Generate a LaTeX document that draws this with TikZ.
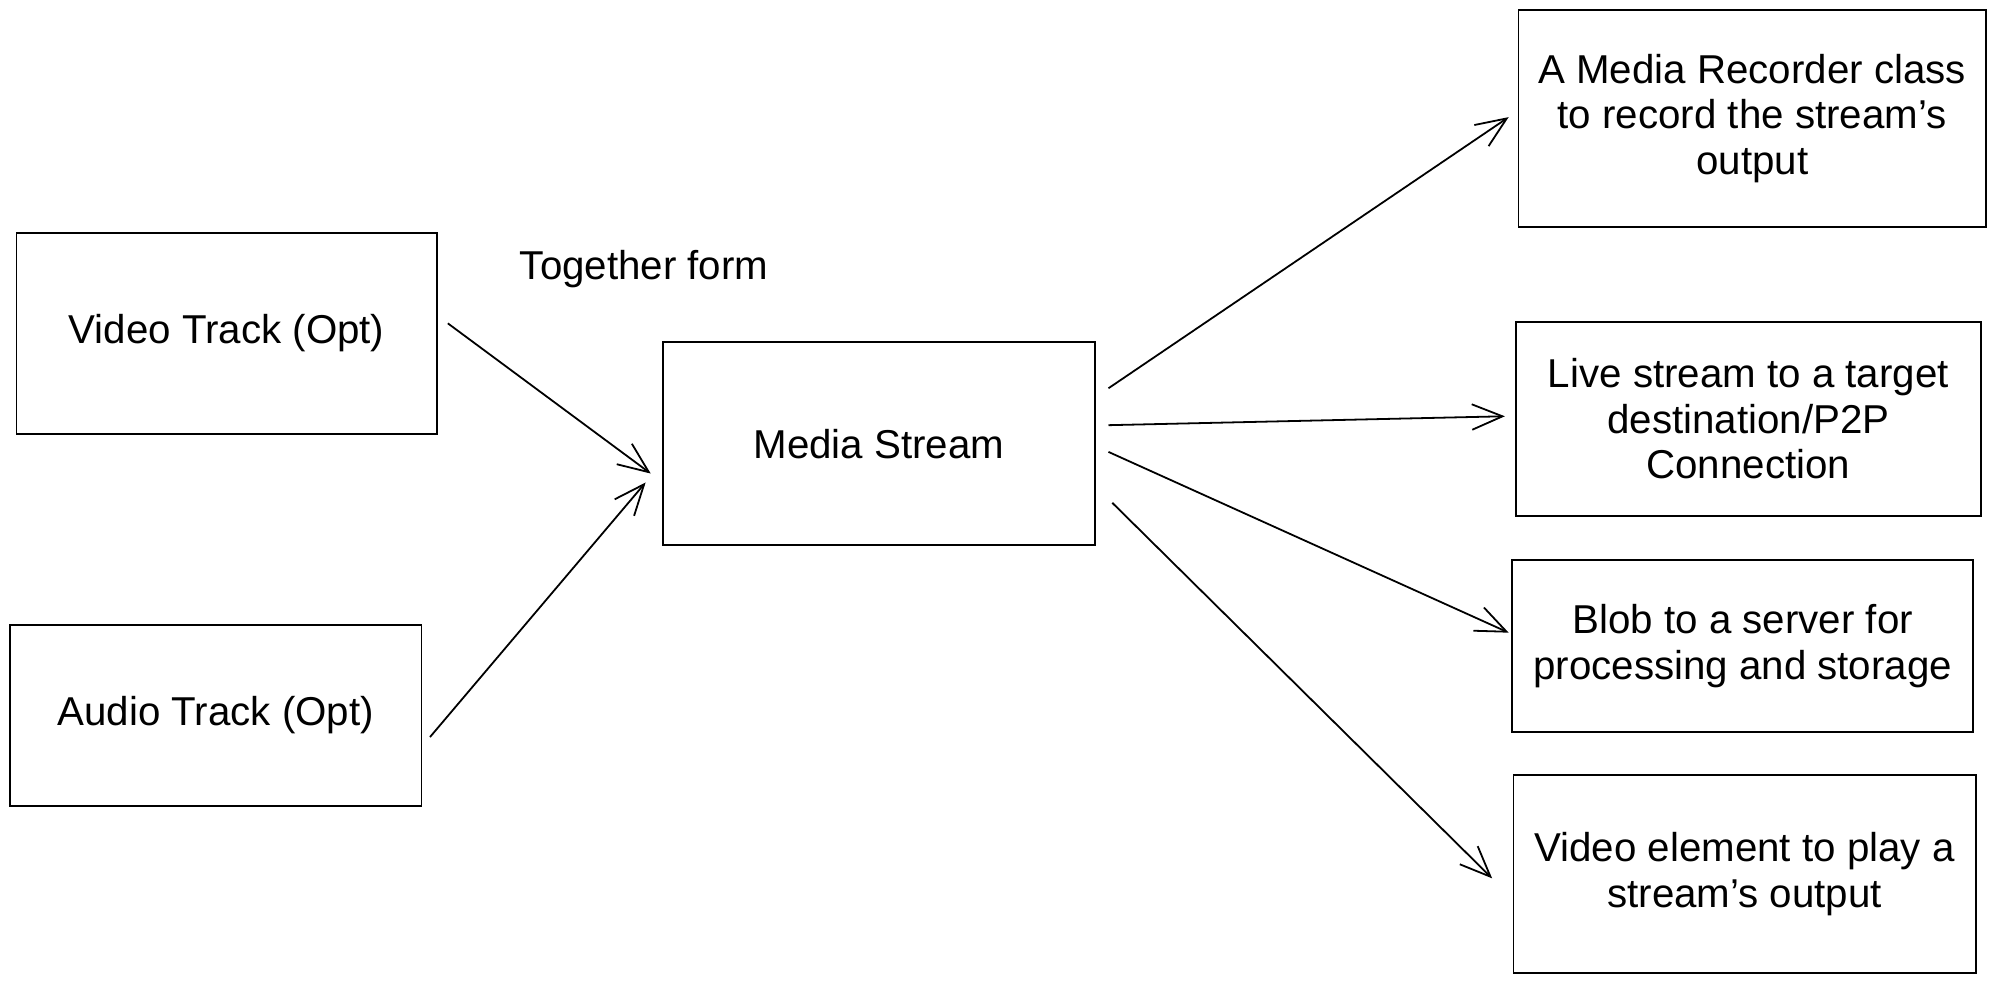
\documentclass[tikz,border=0pt]{standalone}
\usepackage{fontspec}
\setmainfont{Liberation Sans}
\usetikzlibrary{positioning, arrows.meta}

\tikzset{
  box/.style={draw, line width=0.4pt, align=center, inner sep=2pt,
    font=\fontsize{9}{10.2}\selectfont},
  flow/.style={line width=0.4pt, -{Straight Barb[length=2.4mm, width=2mm]}}
}

\begin{document}
\begin{tikzpicture}[x=0.01cm, y=-0.01cm]
    \useasboundingbox (0,0) rectangle (1568,772);

    % Inputs
    \node[box, minimum width=3.3cm, minimum height=1.58cm] (video) at (178,262) {Video Track (Opt)};
    \node[box, minimum width=3.23cm, minimum height=1.42cm] (audio) at (169.5,562) {Audio Track (Opt)};

    % Stream
    \node[box, minimum width=3.39cm, minimum height=1.59cm] (stream) at (690.5,348.5) {Media Stream};
    \node[font=\fontsize{9}{10.2}\selectfont] (form) at (506,211) {Together form};

    % Outputs
    \node[box, minimum width=3.67cm, minimum height=1.7cm] (recorder) at (1376.5,93)
        {A Media Recorder class\\to record the stream's\\output};
    \node[box, minimum width=3.65cm, minimum height=1.52cm] (live) at (1373.5,329)
        {Live stream to a target\\destination/P2P\\Connection};
    \node[box, minimum width=3.62cm, minimum height=1.35cm] (blob) at (1369,507.5)
        {Blob to a server for\\processing and storage};
    \node[box, minimum width=3.63cm, minimum height=1.55cm] (element) at (1370.5,686.5)
        {Video element to play a\\stream's output};

    \draw[flow] ([shift={(8,-8)}]video.east) -- ([shift={(-9,23.5)}]stream.west);
    \draw[flow] ([shift={(6,17)}]audio.east) -- ([shift={(-13,30.5)}]stream.west);

    \draw[flow] ([shift={(10,-43.5)}]stream.east) -- ([shift={(-7,-1)}]recorder.west);
    \draw[flow] ([shift={(10,-14.5)}]stream.east) -- ([shift={(-8,-2)}]live.west);
    \draw[flow] ([shift={(10,6.5)}]stream.east) -- ([shift={(-2,-10.5)}]blob.west);
    \draw[flow] ([shift={(13,46.5)}]stream.east) -- ([shift={(-16,3.5)}]element.west);
\end{tikzpicture}
\end{document}
